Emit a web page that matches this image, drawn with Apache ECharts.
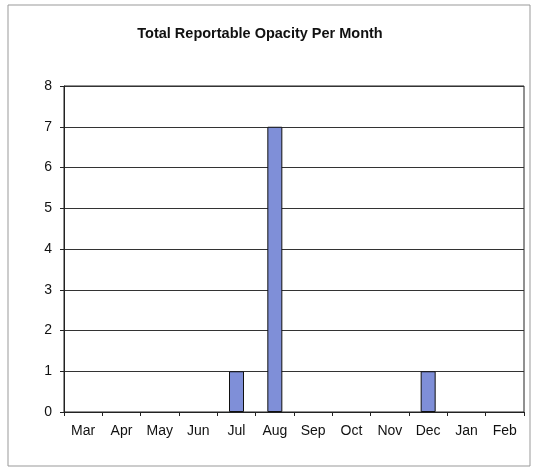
<!DOCTYPE html>
<html><head><meta charset="utf-8">
<script src="https://cdn.jsdelivr.net/npm/echarts@6/dist/echarts.min.js"></script>
<style>html,body{margin:0;padding:0;background:#fff}#c{width:533px;height:468px}</style>
</head><body><div id="c"></div>
<script>
const titleText = 'Total Reportable Opacity Per Month';
const months = ['Mar','Apr','May','Jun','Jul','Aug','Sep','Oct','Nov','Dec','Jan','Feb'];
const opacityCounts = [0,0,0,0,1,7,0,0,0,1,0,0];
const yTicks = {min:0, max:8, interval:1};

const barData = opacityCounts.map(v => v === 0 ? {value:v, itemStyle:{borderWidth:0, opacity:0}} : v);

const chart = echarts.init(document.getElementById('c'));
chart.setOption({
  animation:false,
  backgroundColor:'#fff',
  title:{text:titleText,left:255,top:21,textAlign:'center',
    textStyle:{fontFamily:'Liberation Sans, Arial',fontSize:14.5,fontWeight:'bold',color:'#111'}},
  grid:{left:64,right:9,top:86,bottom:56,show:true,borderColor:'#222',borderWidth:1},
  xAxis:{type:'category',data:months,
    axisLine:{lineStyle:{color:'#222'}},
    axisTick:{show:true,interval:0,length:4,lineStyle:{color:'#222'}},
    axisLabel:{interval:0,margin:12,fontFamily:'Liberation Sans, Arial',fontSize:14,color:'#111'},
    splitLine:{show:false}},
  yAxis:{type:'value',min:yTicks.min,max:yTicks.max,interval:yTicks.interval,
    axisLine:{show:true,lineStyle:{color:'#222'}},
    axisTick:{show:true,length:4,lineStyle:{color:'#222'}},
    axisLabel:{margin:12,fontFamily:'Liberation Sans, Arial',fontSize:14,color:'#111'},
    splitLine:{show:true,lineStyle:{color:'#333',width:1}}},
  series:[{type:'bar',data:barData,barWidth:15,
    itemStyle:{color:'#7f8fd8',borderColor:'#111',borderWidth:1}}],
  graphic:[{type:'rect',shape:{x:8,y:5,width:522,height:461},
    style:{fill:'none',stroke:'#999',lineWidth:1},silent:true}]
});
</script></body></html>
